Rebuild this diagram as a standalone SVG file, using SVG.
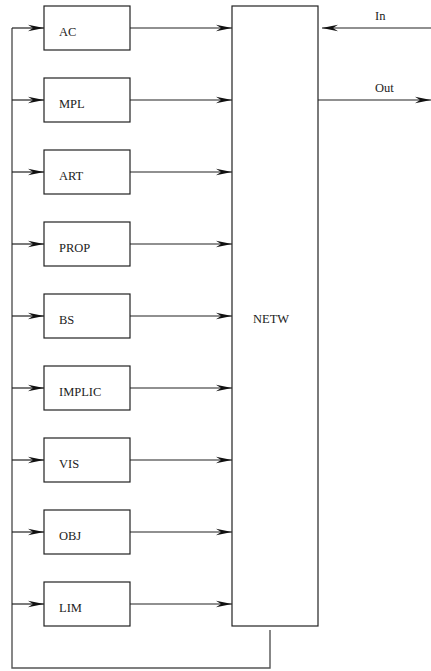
<svg xmlns="http://www.w3.org/2000/svg" width="431" height="671" viewBox="0 0 431 671">
<style>
.box{fill:#fff;stroke:#222;stroke-width:1.2}
.ln{fill:none;stroke:#222;stroke-width:1.2}
.fb{fill:none;stroke:#555;stroke-width:1.4}
.t{font-family:"Liberation Serif",serif;font-size:12.5px;fill:#222}
</style>
<defs>
<marker id="ah" markerUnits="userSpaceOnUse" markerWidth="18" markerHeight="8" viewBox="-16 -4 17 8" refX="0" refY="0" orient="auto">
<path d="M0,0 L-16,-3.2 L-11,0 L-16,3.2 Z" fill="#111"/>
</marker>
</defs>
<rect width="431" height="671" fill="#fff"/>
<g id="connectors">
<path class="fb" d="M270,630 V668 H12 V28"/>
<line class="ln" x1="12" y1="28" x2="44" y2="28" marker-end="url(#ah)"/>
<line class="ln" x1="12" y1="100" x2="44" y2="100" marker-end="url(#ah)"/>
<line class="ln" x1="12" y1="172" x2="44" y2="172" marker-end="url(#ah)"/>
<line class="ln" x1="12" y1="244" x2="44" y2="244" marker-end="url(#ah)"/>
<line class="ln" x1="12" y1="316" x2="44" y2="316" marker-end="url(#ah)"/>
<line class="ln" x1="12" y1="388" x2="44" y2="388" marker-end="url(#ah)"/>
<line class="ln" x1="12" y1="460" x2="44" y2="460" marker-end="url(#ah)"/>
<line class="ln" x1="12" y1="532" x2="44" y2="532" marker-end="url(#ah)"/>
<line class="ln" x1="12" y1="604" x2="44" y2="604" marker-end="url(#ah)"/>
<line class="ln" x1="130" y1="28" x2="232" y2="28" marker-end="url(#ah)"/>
<line class="ln" x1="130" y1="100" x2="232" y2="100" marker-end="url(#ah)"/>
<line class="ln" x1="130" y1="172" x2="232" y2="172" marker-end="url(#ah)"/>
<line class="ln" x1="130" y1="244" x2="232" y2="244" marker-end="url(#ah)"/>
<line class="ln" x1="130" y1="316" x2="232" y2="316" marker-end="url(#ah)"/>
<line class="ln" x1="130" y1="388" x2="232" y2="388" marker-end="url(#ah)"/>
<line class="ln" x1="130" y1="460" x2="232" y2="460" marker-end="url(#ah)"/>
<line class="ln" x1="130" y1="532" x2="232" y2="532" marker-end="url(#ah)"/>
<line class="ln" x1="130" y1="604" x2="232" y2="604" marker-end="url(#ah)"/>
<line class="ln" x1="431" y1="28" x2="322" y2="28" marker-end="url(#ah)"/>
<line class="ln" x1="318" y1="100" x2="431" y2="100" marker-end="url(#ah)"/>
<text class="t" x="375" y="20">In</text>
<text class="t" x="375" y="92">Out</text>
</g>
<g id="AC"><rect class="box" x="44" y="6" width="86" height="44"/><text class="t" x="59" y="36">AC</text></g>
<g id="MPL"><rect class="box" x="44" y="78" width="86" height="44"/><text class="t" x="59" y="108">MPL</text></g>
<g id="ART"><rect class="box" x="44" y="150" width="86" height="44"/><text class="t" x="59" y="180">ART</text></g>
<g id="PROP"><rect class="box" x="44" y="222" width="86" height="44"/><text class="t" x="59" y="252">PROP</text></g>
<g id="BS"><rect class="box" x="44" y="294" width="86" height="44"/><text class="t" x="59" y="324">BS</text></g>
<g id="IMPLIC"><rect class="box" x="44" y="366" width="86" height="44"/><text class="t" x="59" y="396">IMPLIC</text></g>
<g id="VIS"><rect class="box" x="44" y="438" width="86" height="44"/><text class="t" x="59" y="468">VIS</text></g>
<g id="OBJ"><rect class="box" x="44" y="510" width="86" height="44"/><text class="t" x="59" y="540">OBJ</text></g>
<g id="LIM"><rect class="box" x="44" y="582" width="86" height="44"/><text class="t" x="59" y="612">LIM</text></g>
<g id="NETW"><rect class="box" x="232" y="6" width="86" height="620"/><text class="t" x="253" y="323">NETW</text></g>
</svg>
